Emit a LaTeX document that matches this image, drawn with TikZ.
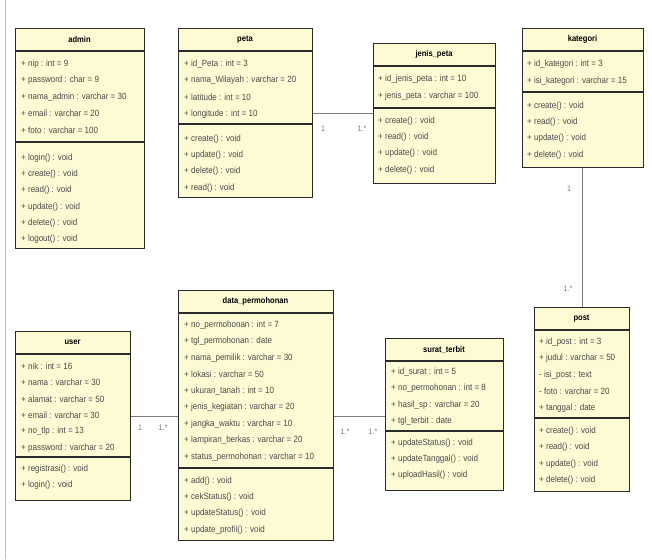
\documentclass[tikz,border=0pt]{standalone}
\usepackage{fontspec}
\setmainfont{Liberation Sans}[FakeStretch=0.89]
\definecolor{boxfill}{HTML}{FDFBD3}
\definecolor{boxline}{HTML}{2B2B2B}
\definecolor{txtcol}{HTML}{4A4A4A}
\definecolor{linkcol}{HTML}{7A7A7A}
\definecolor{edgecol}{HTML}{BBBBBB}
\newcommand\umlclass[8]{%
  \node[cbox, anchor=north west, minimum width={#4pt-#2pt}, minimum height={#5pt-#3pt}] (#1) at (#2,#3) {};
  \node[titletxt] (#1-title) at ({(#2+#4)/2},{(#3+#7)/2}) {#6};
  \draw[sepline] (#2,#7) -- (#4,#7);
  \draw[sepline] (#2,#8) -- (#4,#8);
}
\newcommand\umlrows[5]{%
  \foreach \t [count=\i] in {#5} {\node[rowtxt] (#1\i) at (#2,{#3+#4*(\i-1)}) {\t};}
}
\begin{document}
\begin{tikzpicture}[x=1pt,y=-1pt,
  cbox/.style={draw=boxline, line width=1.3pt, fill=boxfill, inner sep=0pt},
  sepline/.style={draw=boxline, line width=1.1pt},
  rowtxt/.style={anchor=west, inner sep=0pt, font=\fontsize{9}{10}\selectfont, text=txtcol},
  titletxt/.style={inner sep=0pt, font=\fontsize{8.5}{10}\selectfont\bfseries, text=black},
  link/.style={draw=linkcol, line width=0.8pt},
  mult/.style={inner sep=0pt, font=\fontsize{8}{9}\selectfont, text=linkcol}]
\useasboundingbox[fill=white] (0,0) rectangle (652,559);
\draw[edgecol, line width=1pt] (5,0) -- (5,559);

% admin
\umlclass{admin}{15}{28}{144}{248}{admin}{51}{142}
\umlrows{admin-a}{21}{64}{16.5}{+ nip : int = 9, + password : char = 9, + nama\_admin : varchar = 30, + email : varchar = 20, + foto : varchar = 100}
\umlrows{admin-m}{21}{158}{16.3}{+ login() : void, + create() : void, + read() : void, + update() : void, + delete() : void, + logout() : void}

% peta
\umlclass{peta}{178}{28}{312}{197}{peta}{51}{124}
\umlrows{peta-a}{184}{64}{16.6}{+ id\_Peta : int = 3, + nama\_Wilayah : varchar = 20, + latitude : int = 10, + longitude : int = 10}
\umlrows{peta-m}{184}{139}{16.3}{+ create() : void, + update() : void, + delete() : void, + read() : void}

% jenis_peta
\umlclass{jenis}{373}{43}{495}{183}{jenis\_peta}{66}{108}
\umlrows{jenis-a}{378}{79}{16.8}{+ id\_jenis\_peta : int = 10, + jenis\_peta : varchar = 100}
\umlrows{jenis-m}{378}{121}{16.3}{+ create() : void, + read() : void, + update() : void, + delete() : void}

% kategori
\umlclass{kategori}{522}{28}{643}{167}{kategori}{51}{92}
\umlrows{kategori-a}{527}{64}{16.8}{+ id\_kategori : int = 3, + isi\_kategori : varchar = 15}
\umlrows{kategori-m}{527}{106}{16.3}{+ create() : void, + read() : void, + update() : void, + delete() : void}

% user
\umlclass{user}{15}{331}{130}{500}{user}{354}{457}
\umlrows{user-a}{21}{366}{16.4}{+ nik : int = 16, + nama : varchar = 30, + alamat : varchar = 50, + email : varchar = 30, + no\_tlp : int = 13, + password : varchar = 20}
\umlrows{user-m}{21}{469}{16.3}{+ registrasi() : void, + login() : void}

% data_permohonan
\umlclass{dp}{178}{290}{333}{540}{data\_permohonan}{313}{468}
\umlrows{dp-a}{184}{325}{16.5}{+ no\_permohonan : int = 7, + tgl\_permohonan : date, + nama\_pemilik : varchar = 30, + lokasi : varchar = 50, + ukuran\_tanah : int = 10, + jenis\_kegiatan : varchar = 20, + jangka\_waktu : varchar = 10, + lampiran\_berkas : varchar = 20, + status\_permohonan : varchar = 10}
\umlrows{dp-m}{184}{481}{16.3}{+ add() : void, + cekStatus() : void, + updateStatus() : void, + update\_profil() : void}

% surat_terbit
\umlclass{surat}{385}{338}{503}{490}{surat\_terbit}{361}{431}
\umlrows{surat-a}{391}{372}{16.4}{+ id\_surat : int = 5, + no\_permohonan : int = 8, + hasil\_sp : varchar = 20, + tgl\_terbit : date}
\umlrows{surat-m}{391}{443}{16.2}{+ updateStatus() : void, + updateTanggal() : void, + uploadHasil() : void}

% post
\umlclass{post}{534}{307}{629}{491}{post}{330}{418}
\umlrows{post-a}{539}{342}{16.5}{+ id\_post : int = 3, + judul : varchar = 50, - isi\_post : text, - foto : varchar = 20, + tanggal : date}
\umlrows{post-m}{539}{431}{16.5}{+ create() : void, + read() : void, + update() : void, + delete() : void}

% connectors
\coordinate (y1) at (0,113);
\coordinate (y2) at (0,416);
\coordinate (x1) at (582,0);
\draw[link] (peta.east |- y1) -- (jenis.west |- y1);
\draw[link] (kategori.south -| x1) -- (post.north -| x1);
\draw[link] (user.east |- y2) -- (dp.west |- y2);
\draw[link] (dp.east |- y2) -- (surat.west |- y2);

% multiplicities
\node[mult] (m1) at (323,129) {1};
\node[mult] (m2) at (362,129) {1.*};
\node[mult] (m3) at (569,189) {1};
\node[mult] (m4) at (568,289) {1.*};
\node[mult] (m5) at (140,428) {1};
\node[mult] (m6) at (163,428) {1.*};
\node[mult] (m7) at (345,432) {1.*};
\node[mult] (m8) at (373,432) {1.*};
\end{tikzpicture}
\end{document}
